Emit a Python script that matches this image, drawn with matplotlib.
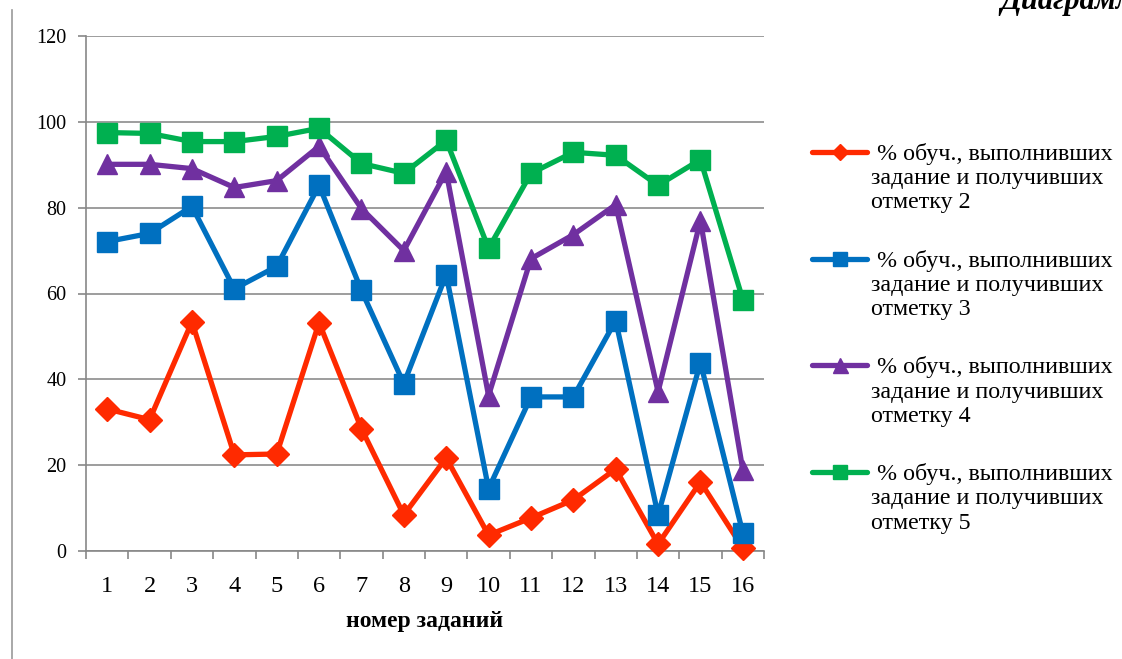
import matplotlib
matplotlib.use("Agg")
import matplotlib.pyplot as plt
import numpy as np
from matplotlib.lines import Line2D

plt.rcParams['font.family'] = ['Liberation Serif', 'DejaVu Serif']

tasks = list(range(1, 17))
mark2 = [33.1, 30.6, 53.4, 22.4, 22.6, 53.2, 28.5, 8.4, 21.7, 3.7, 7.7, 11.9, 19.1, 1.6, 16.1, 0.7]
mark3 = [72.1, 74.0, 80.3, 61.1, 66.3, 85.2, 60.7, 39.0, 64.4, 14.5, 35.9, 35.9, 53.7, 8.4, 43.9, 4.2]
mark4 = [90.1, 90.1, 89.1, 84.7, 86.3, 94.3, 79.8, 70.0, 88.4, 36.2, 68.1, 73.7, 80.7, 37.1, 77.0, 18.9]
mark5 = [97.5, 97.3, 95.4, 95.4, 96.6, 98.5, 90.3, 88.0, 95.7, 70.5, 88.0, 92.9, 92.2, 85.2, 91.2, 58.6]

labels = [" % обуч., выполнивших\nзадание и получивших\nотметку " + str(k) for k in (2, 3, 4, 5)]
colors = ["#FF2A00", "#0070C0", "#7030A0", "#00B050"]
markers = ["D", "s", "^", "s"]
msizes = [12, 14.5, 15, 14.5]

W, H = 1122, 659
fig = plt.figure(figsize=(W / 100, H / 100), dpi=100)
ax = fig.add_axes([86 / W, 1 - 551 / H, (764 - 86) / W, (551 - 36) / H])

series = [mark2, mark3, mark4, mark5]
for i in range(4):
    ax.plot(tasks, series[i], color=colors[i], lw=3.8, marker=markers[i],
            markersize=msizes[i], zorder=5, clip_on=False)

ax.set_xlim(0.5, 16.5)
ax.set_ylim(0, 120)
ax.set_yticks(range(0, 121, 20))
ax.set_xticks(tasks)
ax.set_xticks(np.arange(0.5, 17, 1), minor=True)
ax.tick_params(axis='x', which='major', length=0, labelsize=17.5, pad=18)
ax.tick_params(axis='x', which='minor', length=6, color='#888888', width=1.2)
ax.tick_params(axis='y', length=6, color='#888888', width=1.2, labelsize=14.5, pad=8)
ax.grid(axis='y', color='#8c8c8c', lw=1.2, zorder=0)
for s in ['top', 'right']:
    ax.spines[s].set_visible(False)
for s in ['left', 'bottom']:
    ax.spines[s].set_color('#888888')
    ax.spines[s].set_linewidth(1.2)
ax.set_xlabel("номер заданий", fontsize=17, fontweight='bold', labelpad=10)

# legend drawn by hand: handle aligned with the first text line
for i in range(4):
    yc = 1 - (152 + i * 106.7) / H
    fig.add_artist(Line2D([812 / W, 867 / W], [yc, yc], color=colors[i], lw=3.8,
                          solid_capstyle='round'))
    fig.add_artist(Line2D([839.5 / W], [yc], color=colors[i], marker=markers[i],
                          markersize=msizes[i] * 0.72, lw=0))
    fig.text(871 / W, yc + 9 / H, labels[i], fontsize=17.3, va='top', ha='left',
             linespacing=1.2)

# left border line and cut-off title
fig.add_artist(Line2D([12 / W, 12 / W], [0, 1 - 10 / H], color='#999999', lw=1.2))
fig.text(1000 / W, 1 - 9 / H, "Диаграмма", fontsize=22, fontweight='bold',
         fontstyle='italic', va='baseline', ha='left')

fig.savefig("out.png", dpi=100)
